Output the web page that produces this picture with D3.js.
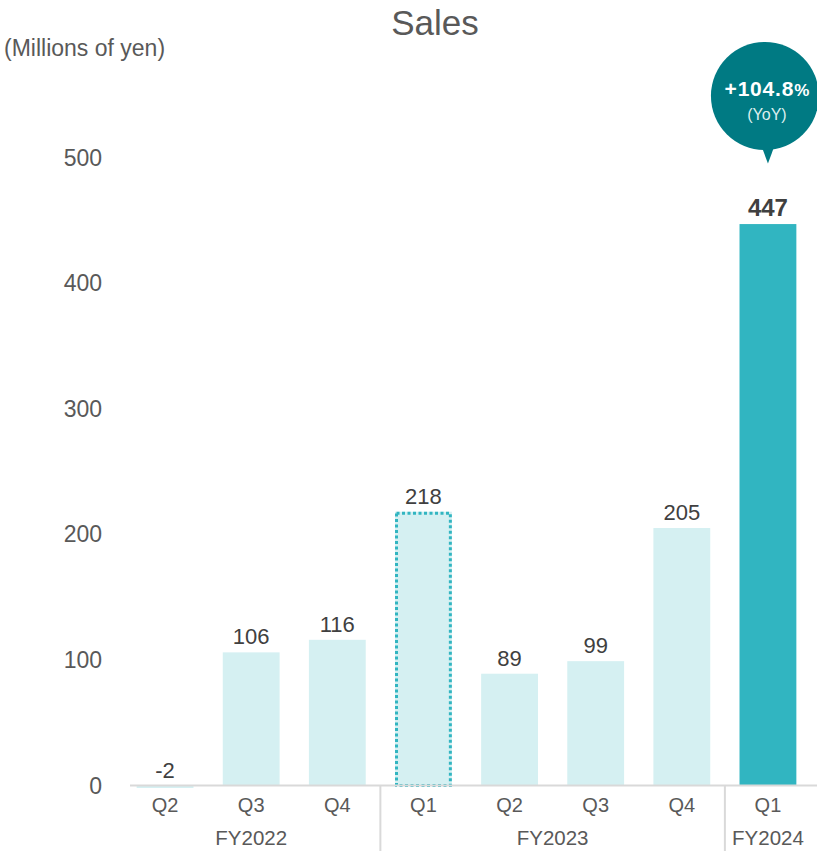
<!DOCTYPE html>
<html>
<head>
<meta charset="utf-8">
<script src="https://cdn.jsdelivr.net/npm/d3@7"></script>
<style>
  body { margin: 0; background: #fff; }
  svg { display: block; font-family: "Liberation Sans", Arial, sans-serif; }
</style>
</head>
<body>
<svg width="817" height="851"></svg>
<script>
// quarters and sales values (millions of yen)
const quarters = ["Q2", "Q3", "Q4", "Q1", "Q2", "Q3", "Q4", "Q1"];
const fiscalYears = ["FY2022", "FY2022", "FY2022", "FY2023", "FY2023", "FY2023", "FY2023", "FY2024"];
const sales = [-2, 106, 116, 218, 89, 99, 205, 447];
const yTicks = [0, 100, 200, 300, 400, 500];
const yoyLabel = "+104.8";

const svg = d3.select("svg");
const ids = quarters.map((q, i) => i);

const x = d3.scaleBand()
  .domain(ids)
  .range([122, 811])
  .paddingInner(0.34)
  .paddingOuter(0.17);

const y = d3.scaleLinear().domain([0, 500]).range([785.5, 157.5]);

// title + unit
svg.append("text")
  .attr("x", 435).attr("y", 35)
  .attr("text-anchor", "middle")
  .attr("font-size", 35).attr("fill", "#595959")
  .text("Sales");

svg.append("text")
  .attr("x", 4).attr("y", 56)
  .attr("font-size", 23).attr("fill", "#595959")
  .text("(Millions of yen)");

// y tick labels (no axis line)
svg.append("g").selectAll("text")
  .data(yTicks)
  .enter()
  .append("text")
  .attr("x", 102)
  .attr("y", (d) => y(d) + 8)
  .attr("text-anchor", "end")
  .attr("font-size", 23).attr("fill", "#595959")
  .text((d) => d);

// bars
const last = sales.length - 1;
svg.append("g").selectAll("rect")
  .data(sales)
  .enter()
  .append("rect")
  .attr("x", (d, i) => x(i))
  .attr("width", x.bandwidth())
  .attr("y", (d) => y(Math.max(0, d)))
  .attr("height", (d) => Math.abs(y(d) - y(0)))
  .attr("fill", (d, i) => (i === last ? "#31b5c1" : "#d5f0f2"));

// dotted outline on FY2023 Q1
const dotted = 3;
svg.append("rect")
  .attr("x", x(dotted) + 1.5)
  .attr("y", y(sales[dotted]) + 1.5)
  .attr("width", x.bandwidth() - 3)
  .attr("height", y(0) - y(sales[dotted]) - 1.5)
  .attr("fill", "none")
  .attr("stroke", "#31b5c1")
  .attr("stroke-width", 3)
  .attr("stroke-dasharray", "3 2.5");

// value labels
svg.append("g").selectAll("text")
  .data(sales)
  .enter()
  .append("text")
  .attr("x", (d, i) => x(i) + x.bandwidth() / 2)
  .attr("y", (d) => y(Math.max(0, d)) - 8)
  .attr("text-anchor", "middle")
  .attr("font-size", (d, i) => (i === last ? 24 : 22))
  .attr("font-weight", (d, i) => (i === last ? "bold" : "normal"))
  .attr("fill", "#404040")
  .text((d) => d);

// baseline
svg.append("line")
  .attr("x1", 130).attr("x2", 817)
  .attr("y1", y(0)).attr("y2", y(0))
  .attr("stroke", "#d9d9d9").attr("stroke-width", 2);

// quarter labels
svg.append("g").selectAll("text")
  .data(quarters)
  .enter()
  .append("text")
  .attr("x", (d, i) => x(i) + x.bandwidth() / 2)
  .attr("y", 812)
  .attr("text-anchor", "middle")
  .attr("font-size", 20).attr("fill", "#595959")
  .text((d) => d);

// fiscal year groups
const groups = d3.groups(ids, (i) => fiscalYears[i]);
const step = x.step();
svg.append("g").selectAll("text")
  .data(groups)
  .enter()
  .append("text")
  .attr("x", ([fy, idx]) => (x(idx[0]) + x(idx[idx.length - 1]) + x.bandwidth()) / 2)
  .attr("y", 845)
  .attr("text-anchor", "middle")
  .attr("font-size", 20.5).attr("fill", "#595959")
  .text(([fy]) => fy);

// separators between fiscal years
svg.append("g").selectAll("line")
  .data(groups.slice(1))
  .enter()
  .append("line")
  .attr("x1", ([fy, idx]) => x(idx[0]) - (step - x.bandwidth()) / 2)
  .attr("x2", ([fy, idx]) => x(idx[0]) - (step - x.bandwidth()) / 2)
  .attr("y1", y(0)).attr("y2", 851)
  .attr("stroke", "#d9d9d9").attr("stroke-width", 2);

// YoY bubble above last bar
const tipX = x(last) + x.bandwidth() / 2;
const bx = tipX - 3;
const by = 96;
const r = 54;
const bubble = svg.append("g").attr("transform", `translate(${bx},${by})`);
bubble.append("path")
  .attr("d", `M-5,${r - 8} L3,${y(500) + 6 - by} L11,${r - 8} Z`)
  .attr("fill", "#007a83");
bubble.append("circle").attr("r", r).attr("fill", "#007a83");
const t = bubble.append("text")
  .attr("x", 2)
  .attr("y", 0)
  .attr("text-anchor", "middle")
  .attr("fill", "#fff")
  .attr("font-weight", "bold");
t.append("tspan").attr("font-size", 21).attr("letter-spacing", 0.8).text(yoyLabel);
t.append("tspan").attr("font-size", 17).text("%");
bubble.append("text")
  .attr("x", 2)
  .attr("y", 24)
  .attr("text-anchor", "middle")
  .attr("fill", "#dcefef")
  .attr("font-size", 16)
  .text("(YoY)");
</script>
</body>
</html>
